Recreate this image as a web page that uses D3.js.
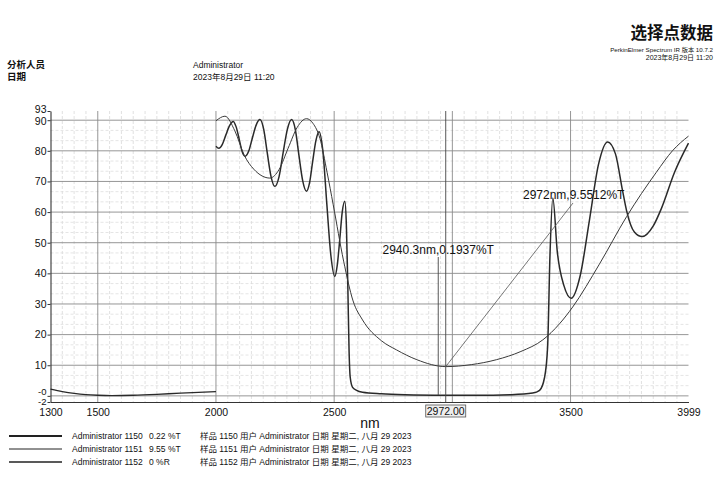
<!DOCTYPE html>
<html>
<head>
<meta charset="utf-8">
<script src="https://cdn.jsdelivr.net/npm/d3@7"></script>
<style>
  body { margin: 0; background: #fff; }
  text { font-family: "Liberation Sans", "Noto Sans CJK SC", sans-serif; fill: #111; }
</style>
</head>
<body>
<svg id="chart"></svg>
<script>
// spectrum data
let nm1150 = [2000, 2012, 2027, 2042, 2058, 2073, 2085, 2098, 2110, 2123, 2139, 2154, 2170, 2186, 2202, 2217, 2233, 2249, 2267, 2284, 2302, 2320, 2336, 2351, 2367, 2383, 2396, 2409, 2423, 2436, 2453, 2469, 2486, 2503, 2513, 2524, 2534, 2545, 2552, 2558, 2563, 2568, 2578, 2595, 2620, 2700, 2800, 2972, 3100, 3250, 3340, 3369, 3390, 3403, 3413, 3425, 3444, 3472, 3503, 3541, 3580, 3618, 3657, 3690, 3720, 3737, 3770, 3803, 3850, 3885, 3940, 3999];
let t1150 = [81.5, 80.8, 82.1, 85.2, 88.3, 89.6, 87.9, 83.9, 79.9, 78.2, 80.0, 84.2, 88.4, 90.2, 87.0, 79.3, 71.6, 68.4, 71.6, 79.3, 87.0, 90.2, 86.8, 78.5, 70.2, 66.8, 69.6, 76.5, 83.4, 86.2, 79.3, 62.6, 45.9, 39, 42.6, 51.3, 59.9, 63.5, 55, 35, 15, 6, 2.8, 1.8, 1.2, 0.7, 0.4, 0.22, 0.2, 0.4, 0.9, 1.8, 6, 16, 46, 64.6, 47, 36, 31.9, 39.3, 57.4, 75.5, 82.9, 79, 67, 60.5, 53.5, 52, 55.5, 61.3, 73, 82.5];

let nm1151 = [2000, 2038, 2080, 2120, 2160, 2195, 2228, 2267, 2305, 2344, 2383, 2410, 2440, 2470, 2496, 2540, 2580, 2620, 2700, 2764, 2850, 2972, 3080, 3186, 3290, 3383, 3453, 3509, 3622, 3737, 3863, 3931, 3999];
let t1151 = [89.8, 91.3, 86.5, 78.5, 74, 71.8, 71.1, 73.9, 80.8, 87.7, 90.5, 89, 84, 73, 62.4, 44, 31, 24.8, 18, 15, 11.8, 9.55, 10.2, 11.8, 14.5, 18.3, 23.5, 29, 43, 58.5, 73, 80, 84.8];

let nm1152 = [1300, 1350, 1400, 1450, 1500, 1560, 1650, 1750, 1850, 1950, 2000];
let r1152 = [2.2, 1.4, 0.8, 0.4, 0.2, 0.1, 0.2, 0.5, 0.9, 1.2, 1.4];

let xTicks = [1300, 1500, 2000, 2500, 3500, 3999];
let yTicks = [-2, 0, 10, 20, 30, 40, 50, 60, 70, 80, 90, 93];
let yTickLabels = ["-2", "-0", "10", "20", "30", "40", "50", "60", "70", "80", "90", "93"];

let cursorNm = [2940.3, 2972];
let cursorVal = [0.1937, 9.5512];
let cursorText = ["2940.3nm,0.1937%T", "2972nm,9.5512%T"];

let legendNames = ["Administrator 1150", "Administrator 1151", "Administrator 1152"];
let legendValues = ["0.22 %T", "9.55 %T", "0 %R"];
let legendInfo = [
  "样品 1150 用户 Administrator 日期 星期二, 八月 29 2023",
  "样品 1151 用户 Administrator 日期 星期二, 八月 29 2023",
  "样品 1152 用户 Administrator 日期 星期二, 八月 29 2023"
];

let width = 723;
let height = 492;

let svg = d3.select("#chart").attr("width", width).attr("height", height);

let xScale = d3.scaleLinear().domain([1300, 3999]).range([50.5, 688.5]);
let yScale = d3.scaleLinear().domain([-2, 93]).range([402, 111]);

// header
svg.append("text").attr("x", 713).attr("y", 39).attr("text-anchor", "end")
  .attr("font-size", 16.5).attr("font-weight", "bold").text("选择点数据");
svg.append("text").attr("x", 713).attr("y", 52).attr("text-anchor", "end")
  .attr("font-size", 6.2).text("PerkinElmer Spectrum IR 版本 10.7.2");
svg.append("text").attr("x", 713).attr("y", 59.5).attr("text-anchor", "end")
  .attr("font-size", 7).text("2023年8月29日 11:20");
svg.append("text").attr("x", 7).attr("y", 68).attr("font-size", 9.5).attr("font-weight", "bold").text("分析人员");
svg.append("text").attr("x", 7).attr("y", 80).attr("font-size", 9.5).attr("font-weight", "bold").text("日期");
svg.append("text").attr("x", 193).attr("y", 68).attr("font-size", 8.5).text("Administrator");
svg.append("text").attr("x", 193).attr("y", 80).attr("font-size", 8.5).text("2023年8月29日 11:20");

// grid
let grid = svg.append("g");
let minorX = d3.range(1350, 3999, 50).filter(d => d % 500 !== 0);
grid.selectAll(".vminor").data(minorX).enter().append("line")
  .attr("x1", d => xScale(d)).attr("x2", d => xScale(d))
  .attr("y1", yScale(93)).attr("y2", yScale(-2))
  .attr("stroke", "#d4d4d4").attr("stroke-width", 0.7).attr("stroke-dasharray", "3,2");
let minorY = d3.range(0, 93, 10 / 3).filter(d => Math.abs(d % 10) > 0.01 && Math.abs(d % 10 - 10) > 0.01);
grid.selectAll(".hminor").data(minorY).enter().append("line")
  .attr("x1", xScale(1300)).attr("x2", xScale(3999))
  .attr("y1", d => yScale(d)).attr("y2", d => yScale(d))
  .attr("stroke", "#dadada").attr("stroke-width", 0.7).attr("stroke-dasharray", "3,2");
grid.selectAll(".vmajor").data([1500, 2000, 2500, 3000, 3500]).enter().append("line")
  .attr("x1", d => xScale(d)).attr("x2", d => xScale(d))
  .attr("y1", yScale(93)).attr("y2", yScale(-2))
  .attr("stroke", "#8a8a8a").attr("stroke-width", 0.9);
grid.selectAll(".hmajor").data([0, 10, 20, 30, 40, 50, 60, 70, 80, 90]).enter().append("line")
  .attr("x1", xScale(1300)).attr("x2", xScale(3999))
  .attr("y1", d => yScale(d)).attr("y2", d => yScale(d))
  .attr("stroke", "#8a8a8a").attr("stroke-width", 0.9);

// axes
let yAxis = d3.axisLeft(yScale).tickValues(yTicks)
  .tickFormat((d, i) => yTickLabels[i]).tickSize(3).tickSizeOuter(0).tickPadding(1);
let yG = svg.append("g").attr("transform", "translate(" + xScale(1300) + ",0)").call(yAxis);
let xAxis = d3.axisBottom(xScale).tickValues(xTicks).tickFormat(d3.format("d"))
  .tickSize(0).tickSizeOuter(0).tickPadding(7);
let xG = svg.append("g").attr("transform", "translate(0," + yScale(-2) + ")").call(xAxis);
[xG, yG].forEach(g => {
  g.select(".domain").attr("stroke", "#333").attr("stroke-width", 1.1);
  g.selectAll(".tick line").attr("stroke", "#333");
  g.selectAll("text").attr("font-size", 10.5).attr("fill", "#111")
    .attr("font-family", "'Liberation Sans', sans-serif");
});
// the scan prints the crowded end labels a little apart
let nudge = { "93": -1.5, "90": 1, "-0": -4.5, "-2": -0.5 };
yG.selectAll(".tick text").attr("font-size", (d) => (d === -2 || d === 0) ? 9.5 : 10.5)
  .attr("transform", d => {
    let lab = yTickLabels[yTicks.indexOf(d)];
    return "translate(0," + (nudge[lab] || 0) + ")";
  });

svg.append("text").attr("x", 370).attr("y", 428).attr("text-anchor", "middle")
  .attr("font-size", 14).text("nm");

// spectra
let line = d3.line().x(d => xScale(d[0])).y(d => yScale(d[1])).curve(d3.curveMonotoneX);
let series = [
  { pts: d3.zip(nm1150, t1150), w: 1.5, c: "#2a2a2a" },
  { pts: d3.zip(nm1151, t1151), w: 1.0, c: "#3a3a3a" },
  { pts: d3.zip(nm1152, r1152), w: 1.3, c: "#2a2a2a" }
];
svg.selectAll(".spec").data(series).enter().append("path")
  .attr("d", d => line(d.pts)).attr("fill", "none")
  .attr("stroke", d => d.c).attr("stroke-width", d => d.w);

// cursors
svg.append("line")
  .attr("x1", xScale(cursorNm[1])).attr("x2", xScale(cursorNm[1]))
  .attr("y1", yScale(93)).attr("y2", yScale(-2))
  .attr("stroke", "#444").attr("stroke-width", 0.9);
svg.append("line")
  .attr("x1", xScale(cursorNm[0])).attr("x2", xScale(cursorNm[0]))
  .attr("y1", yScale(cursorVal[0])).attr("y2", 257)
  .attr("stroke", "#444").attr("stroke-width", 0.9);
svg.append("text").attr("x", xScale(cursorNm[0])).attr("y", 254).attr("text-anchor", "middle")
  .attr("font-size", 12).text(cursorText[0]);
svg.append("line")
  .attr("x1", xScale(cursorNm[1])).attr("y1", yScale(cursorVal[1]))
  .attr("x2", 573).attr("y2", 203)
  .attr("stroke", "#555").attr("stroke-width", 0.8);
svg.append("text").attr("x", 523).attr("y", 199).attr("font-size", 12).text(cursorText[1]);

// cursor value box on x axis
let bx = xScale(cursorNm[1]);
svg.append("rect").attr("x", bx - 20).attr("y", 405).attr("width", 40).attr("height", 12)
  .attr("fill", "#eee").attr("stroke", "#555").attr("stroke-width", 0.8);
svg.append("text").attr("x", bx).attr("y", 414.5).attr("text-anchor", "middle")
  .attr("font-size", 10.5).text(cursorNm[1].toFixed(2));

// legend
let legendW = [2, 1, 1.5];
let leg = svg.selectAll(".leg").data(legendNames).enter().append("g")
  .attr("transform", (d, i) => "translate(0," + (436 + i * 13) + ")");
leg.append("line").attr("x1", 9).attr("x2", 62).attr("y1", 0).attr("y2", 0)
  .attr("stroke", "#222").attr("stroke-width", (d, i) => legendW[i]);
leg.append("text").attr("x", 72).attr("y", 3).attr("font-size", 8.5).text(d => d);
leg.append("text").attr("x", 149).attr("y", 3).attr("font-size", 8.5).text((d, i) => legendValues[i]);
leg.append("text").attr("x", 200).attr("y", 3).attr("font-size", 8.5).text((d, i) => legendInfo[i]);
</script>
</body>
</html>
